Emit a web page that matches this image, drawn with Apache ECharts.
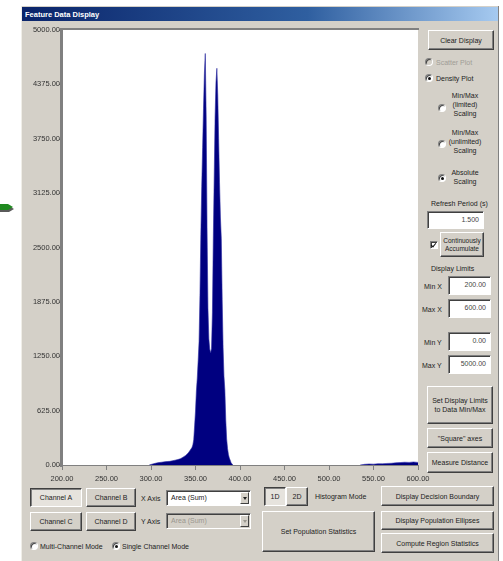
<!DOCTYPE html>
<html>
<head>
<meta charset="utf-8">
<script src="https://cdn.jsdelivr.net/npm/echarts@6/dist/echarts.min.js"></script>
<style>
  html, body { margin: 0; padding: 0; width: 503px; height: 561px; background: #fff; overflow: hidden; }
  body { position: relative; font-family: "Liberation Sans", Arial, sans-serif; font-size: 7px; color: #222; }
  .win { position: absolute; left: 21px; top: 6px; width: 478px; height: 555px; background: #d4d0c8;
         border-left: 1px solid #f0eee8; border-right: 1px solid #808080; box-sizing: border-box; }
  .titlebar { position: absolute; left: 22px; top: 7px; width: 476px; height: 14px;
              background: linear-gradient(to right, #0a246a, #2f5fa0 60%, #a6caf0); }
  .titlebar span { position: absolute; left: 3px; top: 3px; color: #fff; font-weight: bold; font-size: 7.5px; white-space: nowrap; }
  .btn { position: absolute; box-sizing: border-box; background: #d4d0c8; border: 1px solid;
         border-color: #fff #404040 #404040 #fff; box-shadow: inset -1px -1px #808080;
         display: flex; align-items: center; justify-content: center; text-align: center;
         line-height: 9px; color: #222; white-space: nowrap; }
  .btn.down { border-color: #404040 #fff #fff #404040; box-shadow: inset 1px 1px #808080; background: #e6e3dd; }
  .field { position: absolute; box-sizing: border-box; background: #fff; border: 1px solid;
           border-color: #808080 #fff #fff #808080; box-shadow: inset 1px 1px #404040;
           text-align: right; padding-right: 4px; line-height: 16px; color: #444; }
  .field.left { text-align: left; padding-left: 4px; padding-right: 0; }
  .field.off { background: #d4d0c8; color: #9a978f; }
  .lbl { position: absolute; white-space: nowrap; color: #222; line-height: 9px; }
  .lbl.c { text-align: center; }
  .lbl.off { color: #a09d96; }
  .radio { position: absolute; width: 8px; height: 8px; box-sizing: border-box; border-radius: 50%;
           background: #fff; border: 1px solid; border-color: #808080 #fff #fff #808080; box-shadow: inset 1px 1px #404040; }
  .radio.on::after { content: ""; position: absolute; left: 2px; top: 2px; width: 3px; height: 3px; border-radius: 50%; background: #111; }
  .radio.off { background: #d4d0c8; }
  .check { position: absolute; width: 8px; height: 8px; box-sizing: border-box; background: #fff;
           border: 1px solid; border-color: #808080 #fff #fff #808080; box-shadow: inset 1px 1px #404040; }
  .check.on::after { content: ""; position: absolute; left: 1px; top: 0px; width: 2px; height: 4px;
           border: solid #111; border-width: 0 1px 1px 0; transform: rotate(40deg); }
  .drop { position: absolute; right: 1px; top: 1px; bottom: 1px; width: 9px; background: #d4d0c8;
          border: 1px solid; border-color: #fff #404040 #404040 #fff; box-sizing: border-box; }
  .drop::after { content: ""; position: absolute; left: 2px; top: 4px; border: 2px solid transparent; border-top: 3px solid #222; }
  .drop.off::after { border-top-color: #9a978f; }
  .plotframe { position: absolute; left: 60px; top: 28px; width: 359px; height: 439px; box-sizing: border-box;
               border-top: 2px solid #808080; border-left: 2px solid #808080; }
  #chart { position: absolute; left: 0; top: 0; width: 503px; height: 561px; z-index: 2; }
  .arrow { position: absolute; left: 0; top: 201px; width: 14px; height: 12px; z-index: 1; }
</style>
</head>
<body>
<svg class="arrow" viewBox="0 0 14 12">
  <polygon points="0,5 9,5 14,8 9,11 0,11" fill="#5a5a5a"/>
  <polygon points="0,3 8,3 13,6 8,9 0,9" fill="#1f8a1f"/>
</svg>

<div class="win"></div>
<div class="titlebar"><span>Feature Data Display</span></div>
<div class="plotframe"></div>

<!-- right-hand control panel -->
<div class="btn" style="left:428px;top:30px;width:66px;height:20px;">Clear Display</div>
<div class="radio off" style="left:425px;top:58px;"></div>
<div class="lbl off" style="left:436px;top:58px;">Scatter Plot</div>
<div class="radio on" style="left:425px;top:74px;"></div>
<div class="lbl" style="left:436px;top:74px;">Density Plot</div>
<div class="radio" style="left:438px;top:104px;"></div>
<div class="lbl c" style="left:448px;top:91px;width:34px;">Min/Max<br>(limited)<br>Scaling</div>
<div class="radio" style="left:438px;top:140px;"></div>
<div class="lbl c" style="left:448px;top:128px;width:34px;">Min/Max<br>(unlimited)<br>Scaling</div>
<div class="radio on" style="left:438px;top:174px;"></div>
<div class="lbl c" style="left:448px;top:168px;width:34px;">Absolute<br>Scaling</div>
<div class="lbl" style="left:431px;top:199px;">Refresh Period (s)</div>
<div class="field" style="left:427px;top:211px;width:57px;height:18px;">1.500</div>
<div class="check on" style="left:430px;top:241px;"></div>
<div class="btn" style="left:440px;top:232px;width:44px;height:25px;font-size:6.5px;line-height:8px;">Continuously<br>Accumulate</div>
<div class="lbl" style="left:431px;top:264px;">Display Limits</div>
<div class="lbl" style="left:424px;top:282px;">Min X</div>
<div class="field" style="left:448px;top:276px;width:43px;height:19px;">200.00</div>
<div class="lbl" style="left:422px;top:305px;">Max X</div>
<div class="field" style="left:448px;top:299px;width:43px;height:19px;">600.00</div>
<div class="lbl" style="left:424px;top:338px;">Min Y</div>
<div class="field" style="left:448px;top:332px;width:43px;height:19px;">0.00</div>
<div class="lbl" style="left:422px;top:361px;">Max Y</div>
<div class="field" style="left:448px;top:355px;width:43px;height:19px;">5000.00</div>
<div class="btn" style="left:427px;top:386px;width:66px;height:38px;">Set Display Limits<br>to Data Min/Max</div>
<div class="btn" style="left:427px;top:428px;width:66px;height:20px;">"Square" axes</div>
<div class="btn" style="left:427px;top:452px;width:66px;height:21px;">Measure Distance</div>

<!-- bottom control row -->
<div class="btn down" style="left:30px;top:488px;width:52px;height:19px;">Channel A</div>
<div class="btn" style="left:86px;top:488px;width:50px;height:19px;">Channel B</div>
<div class="lbl" style="left:141px;top:494px;">X Axis</div>
<div class="field left" style="left:166px;top:490px;width:85px;height:16px;line-height:13px;color:#222;">Area (Sum)<div class="drop"></div></div>
<div class="btn" style="left:30px;top:512px;width:52px;height:19px;">Channel C</div>
<div class="btn" style="left:86px;top:512px;width:50px;height:19px;">Channel D</div>
<div class="lbl" style="left:141px;top:517px;">Y Axis</div>
<div class="field left off" style="left:166px;top:513px;width:85px;height:16px;line-height:13px;">Area (Sum)<div class="drop off"></div></div>
<div class="radio" style="left:30px;top:542px;"></div>
<div class="lbl" style="left:40px;top:542px;">Multi-Channel Mode</div>
<div class="radio on" style="left:112px;top:542px;"></div>
<div class="lbl" style="left:122px;top:542px;">Single Channel Mode</div>

<div class="btn down" style="left:264px;top:487px;width:22px;height:19px;">1D</div>
<div class="btn" style="left:286px;top:487px;width:22px;height:19px;">2D</div>
<div class="lbl" style="left:315px;top:492px;">Histogram Mode</div>
<div class="btn" style="left:381px;top:486px;width:113px;height:20px;">Display Decision Boundary</div>
<div class="btn" style="left:262px;top:511px;width:113px;height:41px;">Set Population Statistics</div>
<div class="btn" style="left:381px;top:511px;width:113px;height:19px;">Display Population Ellipses</div>
<div class="btn" style="left:381px;top:533px;width:113px;height:20px;">Compute Region Statistics</div>

<div id="chart"></div>

<script>
// Histogram of the feature "Area (Sum)", Channel A
const xTicksMin = 200, xTicksMax = 600, xTickStep = 50;
const yTicksMin = 0, yTicksMax = 5000, yTickStep = 625;

// main population: bin centre and count
const mainBins = [298, 300, 303, 306, 309, 312, 315, 318, 321, 324, 327, 330, 333, 336, 339, 342, 344, 346, 347,
  348, 349, 350, 351, 352, 353, 354, 355, 356, 357, 358, 359, 360, 361, 362, 363, 364, 365, 366, 367, 368, 369,
  370, 371, 372, 373, 374, 375, 376, 377, 378, 379, 380, 381, 382, 383, 384, 385, 386, 387, 388, 389, 390, 391, 392];
const mainCounts = [0, 8, 15, 22, 28, 32, 36, 40, 42, 48, 55, 62, 72, 90, 110, 140, 170, 200, 230,
  290, 450, 620, 850, 1000, 1200, 1420, 1950, 2650, 3200, 3650, 4100, 4500, 4730, 4000, 2700, 1800, 1450, 1330, 1290, 1340, 1750,
  2600, 3300, 4000, 4400, 4560, 4250, 3750, 3250, 2850, 2600, 1900, 1350, 1020, 860, 520, 300, 190, 120, 80, 55, 25, 8, 0];

// sparse events at large area
const tailBins = [535, 540, 545, 550, 555, 560, 565, 570, 575, 580, 585, 590, 595, 600];
const tailCounts = [0, 8, 12, 10, 15, 14, 18, 20, 25, 28, 32, 30, 35, 30];

const pairs = (xs, ys) => xs.map((x, i) => [x, ys[i]]);

const chart = echarts.init(document.getElementById('chart'), null, { renderer: 'canvas' });
const labelStyle = { fontFamily: 'Liberation Sans, Arial, sans-serif', fontSize: 7.5, color: '#333' };
const navy = '#000080';

chart.setOption({
  animation: false,
  backgroundColor: 'transparent',
  grid: { left: 62, top: 30, width: 356, height: 435, show: true, backgroundColor: '#ffffff', borderWidth: 0 },
  xAxis: {
    type: 'value', min: xTicksMin, max: xTicksMax, interval: xTickStep,
    axisLine: { show: true, lineStyle: { color: '#808080', width: 1 } },
    axisTick: { show: true, length: 5, lineStyle: { color: '#808080' } },
    axisLabel: Object.assign({ margin: 10, formatter: v => v.toFixed(2) }, labelStyle),
    splitLine: { show: false }
  },
  yAxis: {
    type: 'value', min: yTicksMin, max: yTicksMax, interval: yTickStep,
    axisLine: { show: true, lineStyle: { color: '#808080', width: 1 } },
    axisTick: { show: true, length: 3, lineStyle: { color: '#808080' } },
    axisLabel: Object.assign({ margin: 2, formatter: v => v.toFixed(2) }, labelStyle),
    splitLine: { show: false }
  },
  series: [
    {
      type: 'line', data: pairs(mainBins, mainCounts), symbol: 'none', silent: true,
      lineStyle: { color: '#2a2aa0', width: 0.6 }, areaStyle: { color: navy, opacity: 1 }
    },
    {
      type: 'line', data: pairs(tailBins, tailCounts), symbol: 'none', silent: true,
      lineStyle: { color: '#3a3ab0', width: 0.6 }, areaStyle: { color: navy, opacity: 1 }
    }
  ]
});
</script>
</body>
</html>
